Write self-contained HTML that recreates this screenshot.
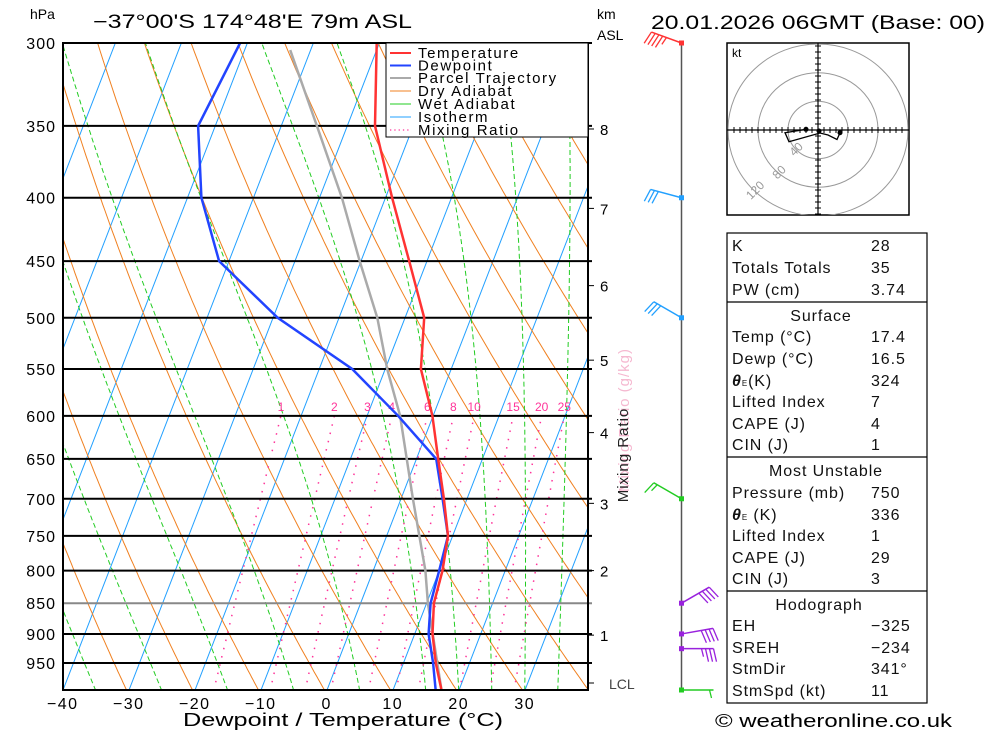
<!DOCTYPE html>
<html><head><meta charset="utf-8">
<style>
html,body{margin:0;padding:0;background:#fff;}
svg{display:block;font-family:"Liberation Sans",sans-serif;}
</style></head>
<body>
<svg id="chart" width="1000" height="733" viewBox="0 0 1000 733" xmlns="http://www.w3.org/2000/svg">
<defs><clipPath id="plotclip"><rect x="63" y="43" width="525" height="647"/></clipPath>
<clipPath id="hodoclip"><rect x="727" y="43" width="182" height="172"/></clipPath></defs>
<rect x="0" y="0" width="1000" height="733" fill="#fff"/>
<g id="bg" clip-path="url(#plotclip)"></g>
<g id="plevels"></g>
<g id="traces" clip-path="url(#plotclip)"></g>
<g id="axes"></g>

<text x="30" y="19" font-size="14">hPa</text>
<text x="93" y="28" font-size="19" textLength="319" lengthAdjust="spacingAndGlyphs">−37°00'S 174°48'E 79m ASL</text>
<text x="597" y="19" font-size="14">km</text>
<text x="597" y="40" font-size="14">ASL</text>
<text x="651" y="29" font-size="19" textLength="334" lengthAdjust="spacingAndGlyphs">20.01.2026 06GMT (Base: 00)</text>
<text x="183" y="726" font-size="18" textLength="320" lengthAdjust="spacingAndGlyphs">Dewpoint / Temperature (°C)</text>

<g font-size="15" letter-spacing="1.6">
<rect x="386" y="43" width="202" height="94" fill="#fff" stroke="#000" stroke-width="1"/>
<line x1="390" y1="53" x2="411" y2="53" stroke="#ff3333" stroke-width="2"/><text x="418" y="58">Temperature</text>
<line x1="390" y1="65.5" x2="411" y2="65.5" stroke="#2244ff" stroke-width="2"/><text x="418" y="70.5">Dewpoint</text>
<line x1="390" y1="78" x2="411" y2="78" stroke="#aaa" stroke-width="2"/><text x="418" y="83">Parcel Trajectory</text>
<line x1="390" y1="91" x2="411" y2="91" stroke="#f08020" stroke-width="1"/><text x="418" y="96">Dry Adiabat</text>
<line x1="390" y1="104" x2="411" y2="104" stroke="#22cc22" stroke-width="1"/><text x="418" y="109">Wet Adiabat</text>
<line x1="390" y1="117" x2="411" y2="117" stroke="#22a0ff" stroke-width="1"/><text x="418" y="122">Isotherm</text>
<line x1="390" y1="130" x2="411" y2="130" stroke="#ff3399" stroke-width="1.3" stroke-dasharray="1.3,3"/><text x="418" y="135">Mixing Ratio</text>
</g>

<g>
<text transform="translate(629,420) rotate(-90)" font-size="15" letter-spacing="1" text-anchor="middle" fill="#f5b8d0">Mixing Ratio (g/kg)</text>
<text transform="translate(628,455) rotate(-90)" font-size="15" letter-spacing="1" text-anchor="middle" fill="#222">Mixing Ratio</text>
</g>

<g id="winds"></g>

<g id="hodo">
<rect x="727" y="43" width="182" height="172" fill="#fff" stroke="#000" stroke-width="1.5"/>
<text x="732" y="57" font-size="12">kt</text>
</g>

<g>
<rect x="727" y="233" width="200" height="470" fill="#fff" stroke="#000" stroke-width="1.2"/>
<line x1="727" y1="302" x2="927" y2="302" stroke="#000" stroke-width="1.2"/>
<line x1="727" y1="457" x2="927" y2="457" stroke="#000" stroke-width="1.2"/>
<line x1="727" y1="591" x2="927" y2="591" stroke="#000" stroke-width="1.2"/>
<g font-size="16" letter-spacing="0.9" fill="#111">
<text x="732" y="251">K</text><text x="871" y="251">28</text>
<text x="732" y="273">Totals Totals</text><text x="871" y="273">35</text>
<text x="732" y="295">PW (cm)</text><text x="871" y="295">3.74</text>
<text x="821" y="321" text-anchor="middle">Surface</text>
<text x="732" y="342">Temp (°C)</text><text x="871" y="342">17.4</text>
<text x="732" y="364">Dewp (°C)</text><text x="871" y="364">16.5</text>
<text x="732" y="386"><tspan font-weight="bold" font-style="italic">θ</tspan><tspan font-size="8">E</tspan>(K)</text><text x="871" y="386">324</text>
<text x="732" y="407">Lifted Index</text><text x="871" y="407">7</text>
<text x="732" y="429">CAPE (J)</text><text x="871" y="429">4</text>
<text x="732" y="450">CIN (J)</text><text x="871" y="450">1</text>
<text x="826" y="476" text-anchor="middle">Most Unstable</text>
<text x="732" y="498">Pressure (mb)</text><text x="871" y="498">750</text>
<text x="732" y="520"><tspan font-weight="bold" font-style="italic">θ</tspan><tspan font-size="8">E</tspan> (K)</text><text x="871" y="520">336</text>
<text x="732" y="541">Lifted Index</text><text x="871" y="541">1</text>
<text x="732" y="563">CAPE (J)</text><text x="871" y="563">29</text>
<text x="732" y="584">CIN (J)</text><text x="871" y="584">3</text>
<text x="819" y="610" text-anchor="middle">Hodograph</text>
<text x="732" y="631">EH</text><text x="871" y="631">−325</text>
<text x="732" y="653">SREH</text><text x="871" y="653">−234</text>
<text x="732" y="674">StmDir</text><text x="871" y="674">341°</text>
<text x="732" y="696">StmSpd (kt)</text><text x="871" y="696">11</text>
</g></g>
<text x="715" y="727" font-size="18" textLength="237" lengthAdjust="spacingAndGlyphs">© weatheronline.co.uk</text>

<script>
// ---- data ----
const pressures = [1000,950,900,850,800,750,700,650,600,550,500,450,400,350,300];
const tempValues = [17.4,14.9,12.7,11.1,10.5,9.3,6.5,3.3,-0.1,-4.6,-7.1,-12.7,-19.0,-25.8,-30.4];
const dewValues = [16.5,14.5,12.1,10.6,10.0,9.3,6.3,3.0,-5.3,-15.0,-29.3,-41.5,-47.9,-52.6,-51.1];
const parcelPressures = [1000,850,800,700,600,550,500,450,400,350,304];
const parcelValues = [17.4,10.2,7.9,1.8,-5.0,-9.7,-14.2,-20.2,-26.6,-34.6,-43.1];
const pressureTicks = [300,350,400,450,500,550,600,650,700,750,800,850,900,950];
const tempTicks = [-40,-30,-20,-10,0,10,20,30];
const mixingRatios = [1,2,3,4,6,8,10,15,20,25];
const wetAdiabatStarts = [-35,-25,-15,-5,5,15,20,25,30,35];
const kmTicks = [1,2,3,4,5,6,7,8];
const kmPressures = [902,800,706,619,541,471,408,352];
const windPressures = [300,400,500,700,850,900,925,1000];
const windDirs = [290,285,300,300,60,80,90,90];
const windSpeeds = [45,30,30,15,40,40,35,5];
const windColors = ['#ff3333','#22a0ff','#22a0ff','#22cc22','#9922dd','#9922dd','#9922dd','#22cc22'];

// ---- axis functions ----
const NS='http://www.w3.org/2000/svg';
function yP(p){return 43+537.9*Math.log(p/300);}
function xT(t,p){return 327+6.6*t+0.387*(690-yP(p));}
function mk(tag,attrs,parent){const e=document.createElementNS(NS,tag);for(const k in attrs)e.setAttribute(k,attrs[k]);parent.appendChild(e);return e;}
const bg=document.getElementById('bg'),tr=document.getElementById('traces'),ax=document.getElementById('axes'),pl=document.getElementById('plevels');
function path(pts,parent,style){let d='';pts.forEach((q,i)=>{d+=(i?'L':'M')+q[0].toFixed(1)+','+q[1].toFixed(1);});const e=mk('path',Object.assign({d:d,fill:'none'},style),parent);return e;}
const pSteps=[];for(let p=1000;p>=290;p-=5)pSteps.push(p);

// isotherms
for(let t=-130;t<=40;t+=10){
  const e=path([[xT(t,1000),yP(1000)],[xT(t,290),yP(290)]],bg,{stroke:'#22a0ff','stroke-width':1});
  
  
}
// dry adiabats
for(let k=-6;k<=13;k++){
  const th=272.85+10*k;
  const e=path(pSteps.map(p=>[xT(th*Math.pow(p/1000,0.286)-273.15,p),yP(p)]),bg,{stroke:'#f08020','stroke-width':1});
  
  
}
// wet adiabats
function es(T){return 6.112*Math.exp(17.67*(T-273.15)/(T-29.65));}
wetAdiabatStarts.forEach(t0=>{
  let T=t0+273.15;const pts=[];
  for(let p=1000;p>=290;p-=2){
    pts.push([xT(T-273.15,p),yP(p)]);
    const e=es(T),rs=0.622*e/(p-e);
    const dTdp=(287*T+2.5e6*rs)/(p*(1005+2.5e6*2.5e6*rs*0.622/(287*T*T)));
    T-=2*dTdp;
  }
  const e=path(pts,bg,{stroke:'#22cc22','stroke-width':1,'stroke-dasharray':'5,3'});
  
  
});
// mixing ratio lines
mixingRatios.forEach(w=>{
  const pts=[];
  for(let p=1000;p>=600;p-=10){const e=(w/1000)*p/(0.622+w/1000);const l=Math.log(e/6.112);pts.push([xT(243.5*l/(17.67-l),p),yP(p)]);}
  const e=path(pts,bg,{stroke:'#ff3399','stroke-width':1.5,'stroke-dasharray':'1.5,7'});
  
  
  const ee=(w/1000)*600/(0.622+w/1000),l=Math.log(ee/6.112);
  const lb=mk('text',{x:xT(243.5*l/(17.67-l),600),y:411,'font-size':12,fill:'#ff3399','text-anchor':'middle'},bg);
  lb.textContent=w;
  
  
});
// pressure lines and labels
pressureTicks.forEach(p=>{
  const l=mk('line',{x1:63,x2:592,y1:yP(p),y2:yP(p),stroke:p==850?'#888':'#000','stroke-width':2},pl);
  
  
  const t=mk('text',{x:56,y:yP(p)+6,'font-size':16,'letter-spacing':1,'text-anchor':'end'},ax);
  t.textContent=p;
  
  
});
// frame
const fr=mk('rect',{x:63,y:43,width:525,height:647,fill:'none',stroke:'#000','stroke-width':2},ax);


tempTicks.forEach(t=>{
  const l=mk('text',{x:xT(t,1000),y:709,'font-size':16,'letter-spacing':1.5,'text-anchor':'middle'},ax);
  l.textContent=(t<0?'−':'')+Math.abs(t);
  
  
});
// km axis
kmTicks.forEach((k,i)=>{
  const y=yP(kmPressures[i]);
  mk('line',{x1:588,x2:594,y1:y,y2:y,stroke:'#000','stroke-width':1},ax);
  const t=mk('text',{x:600,y:y+6,'font-size':15},ax);
  t.textContent=k;
  
  
});
mk('line',{x1:588,x2:594,y1:683,y2:683,stroke:'#000','stroke-width':1},ax);
const lcl=mk('text',{x:609,y:689,'font-size':14,fill:'#444'},ax);lcl.textContent='LCL';



// traces
const par=path(parcelPressures.map((p,i)=>[xT(parcelValues[i],p),yP(p)]),tr,{stroke:'#aaa','stroke-width':2.5});


const dw=path(pressures.map((p,i)=>[xT(dewValues[i],p),yP(p)]),tr,{stroke:'#2244ff','stroke-width':2.5});


const tp=path(pressures.map((p,i)=>[xT(tempValues[i],p),yP(p)]),tr,{stroke:'#ff3333','stroke-width':2.5});



// wind barbs
const wg=document.getElementById('winds');
mk('line',{x1:681.5,x2:681.5,y1:43,y2:690,stroke:'#555','stroke-width':1.5},wg);
windPressures.forEach((p,i)=>{
  const y=p>=1000?690:yP(p),x0=681.5,c=windColors[i];
  const a=(windDirs[i])*Math.PI/180;
  const dx=Math.sin(a),dy=-Math.cos(a);
  const L=32;const ex=x0+dx*L,ey=y+dy*L;
  const g=mk('g',{},wg);
  
  
  mk('line',{x1:x0,y1:y,x2:ex,y2:ey,stroke:c,'stroke-width':1.5},g);
  mk('rect',{x:x0-2.5,y:y-2.5,width:5,height:5,fill:c},g);
  const sgn=(dx<0)?-1:1;
  const px=-dy*sgn,py=dx*sgn;
  let s=windSpeeds[i],pos=0;
  while(s>=10){const bx=ex-dx*pos,by=ey-dy*pos;mk('line',{x1:bx,y1:by,x2:bx+px*13+dx*3,y2:by+py*13+dy*3,stroke:c,'stroke-width':1.3},g);pos+=4;s-=10;}
  if(s>=5){const q=pos?pos:4;const bx=ex-dx*q,by=ey-dy*q;mk('line',{x1:bx,y1:by,x2:bx+px*8+dx*2,y2:by+py*8+dy*2,stroke:c,'stroke-width':1.3},g);}
});

// hodograph
const hg=document.getElementById('hodo');
const hc=mk('g',{'clip-path':'url(#hodoclip)'},hg);
const hcx=818,hcy=130;
[30,60,90].forEach(r=>mk('ellipse',{cx:hcx,cy:hcy,rx:r,ry:r*0.955,fill:'none',stroke:'#999','stroke-width':1},hc));
mk('line',{x1:727,x2:909,y1:hcy,y2:hcy,stroke:'#000','stroke-width':1.2},hg);
mk('line',{x1:hcx,x2:hcx,y1:43,y2:215,stroke:'#000','stroke-width':1.2},hg);
for(let d=-84;d<=84;d+=6){if(d===0)continue;mk('line',{x1:hcx+d,x2:hcx+d,y1:hcy-3,y2:hcy+3,stroke:'#000'},hg);mk('line',{x1:hcx-3,x2:hcx+3,y1:hcy+d,y2:hcy+d,stroke:'#000'},hg);}
[['40',hcx-19,hcy+22],['80',hcx-36,hcy+45],['120',hcx-60,hcy+63]].forEach(q=>{const t=mk('text',{x:q[1],y:q[2],'font-size':12,fill:'#999',transform:'rotate(-45 '+q[1]+' '+q[2]+')','text-anchor':'middle'},hg);t.textContent=q[0];});
path([[840,132.7],[837,139.5],[828,135],[820,133],[789,141.7],[785,132.7],[806,129.3]],hg,{stroke:'#000','stroke-width':1.3});
[[840,132.7],[806,129.3],[819,131]].forEach(q=>mk('circle',{cx:q[0],cy:q[1],r:2.5,fill:'#000'},hg));
</script>
</svg>
</body></html>
